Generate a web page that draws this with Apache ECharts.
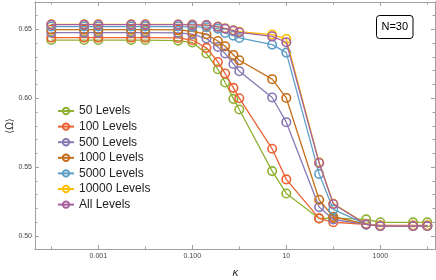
<!DOCTYPE html>
<html><head><meta charset="utf-8">
<script src="https://cdn.jsdelivr.net/npm/echarts@6/dist/echarts.min.js"></script>
<style>html,body{margin:0;padding:0;background:#fff}#c{width:436px;height:280px}</style>
</head><body><div id="c"></div>
<script>
// kappa values (x)
const kappa = [0.0001, 0.0005, 0.001, 0.005, 0.01, 0.05, 0.1, 0.2, 0.35, 0.5, 0.75, 1, 5, 10, 50, 100, 500, 1000, 5000, 10000];
// <Omega> per number of levels
const levels50    = [0.6422,0.6422,0.6422,0.6422,0.6422,0.6418,0.6405,0.6324,0.6210,0.6114,0.5995,0.5918,0.5471,0.5309,0.5128,0.5130,0.5121,0.5100,0.5099,0.5099];
const levels100   = [0.6440,0.6440,0.6440,0.6440,0.6440,0.6437,0.6422,0.6365,0.6263,0.6179,0.6075,0.6000,0.5633,0.5411,0.5128,0.5100,0.5085,0.5077,0.5077,0.5077];
const levels500   = [0.6476,0.6476,0.6476,0.6476,0.6476,0.6474,0.6465,0.6433,0.6372,0.6324,0.6249,0.6196,0.6005,0.5826,0.5210,0.5120,0.5085,0.5074,0.5074,0.5074];
const levels1000  = [0.6498,0.6498,0.6498,0.6498,0.6498,0.6496,0.6485,0.6464,0.6415,0.6377,0.6314,0.6275,0.6138,0.6002,0.5263,0.5140,0.5086,0.5075,0.5075,0.5075];
const levels5000  = [0.6520,0.6520,0.6520,0.6520,0.6520,0.6520,0.6518,0.6515,0.6505,0.6473,0.6454,0.6437,0.6389,0.6331,0.5451,0.5193,0.5085,0.5074,0.5074,0.5074];
const levels10000 = [0.6536,0.6536,0.6536,0.6536,0.6536,0.6535,0.6534,0.6531,0.6520,0.6507,0.6493,0.6482,0.6462,0.6430,0.5535,0.5235,0.5087,0.5076,0.5076,0.5076];
const levelsAll   = [0.6534,0.6534,0.6534,0.6534,0.6534,0.6534,0.6532,0.6530,0.6518,0.6505,0.6490,0.6478,0.6449,0.6406,0.5530,0.5232,0.5085,0.5073,0.5073,0.5073];
const seriesNames = ['50 Levels','100 Levels','500 Levels','1000 Levels','5000 Levels','10000 Levels','All Levels'];
const seriesValues = [levels50, levels100, levels500, levels1000, levels5000, levels10000, levelsAll];
// tick labels
const xMajorTicks = [0.001, 0.1, 10, 1000];
const xMajorLabels = ['0.001', '0.100', '10', '1000'];
const xMinorTicks = [0.0001, 0.01, 1, 100, 10000];
const yMajorTicks = [0.50, 0.55, 0.60, 0.65];
const yMajorLabels = ['0.50', '0.55', '0.60', '0.65'];
const yMinorTicks = [0.49, 0.51, 0.52, 0.53, 0.54, 0.56, 0.57, 0.58, 0.59, 0.61, 0.62, 0.63, 0.64, 0.66];

const colors = ['#8FB032','#EB6235','#8778B3','#C56E1A','#5D9EC7','#FFBF00','#A5609D'];
const frame = '#a0a0a0';
const font = 'Liberation Sans';
const XMIN = -4.347, XMAX = 4.164, YMIN = 0.4906, YMAX = 0.6698;
const lg = v => Math.log10(v);

function xAx(position, ticks, len, labels) {
  return {
    type: 'value', position: position, min: XMIN, max: XMAX,
    axisLine: {show: true, onZero: false, lineStyle: {color: frame, width: 1}},
    axisTick: {show: true, inside: true, length: len, customValues: ticks.map(lg), lineStyle: {color: frame, width: 1}},
    axisLabel: labels ? {show: true, customValues: ticks.map(lg), margin: 4, fontSize: 7, color: '#444', fontFamily: font,
      formatter: v => { const i = ticks.findIndex(t => Math.abs(lg(t) - v) < 1e-6); return i >= 0 ? labels[i] : ''; }} : {show: false},
    splitLine: {show: false}
  };
}
function yAx(position, ticks, len, labels) {
  return {
    type: 'value', position: position, min: YMIN, max: YMAX,
    axisLine: {show: true, onZero: false, lineStyle: {color: frame, width: 1}},
    axisTick: {show: true, inside: true, length: len, customValues: ticks, lineStyle: {color: frame, width: 1}},
    axisLabel: labels ? {show: true, customValues: ticks, margin: 3, fontSize: 7, color: '#444', fontFamily: font,
      formatter: v => { const i = ticks.findIndex(t => Math.abs(t - v) < 1e-9); return i >= 0 ? labels[i] : ''; }} : {show: false},
    splitLine: {show: false}
  };
}

const chart = echarts.init(document.getElementById('c'), null, {renderer: 'canvas'});
chart.setOption({
  animation: false,
  backgroundColor: '#fff',
  grid: {left: 35, top: 2, right: 1, bottom: 31, containLabel: false},
  xAxis: [
    xAx('bottom', xMajorTicks, 4, xMajorLabels),
    xAx('bottom', xMinorTicks, 2.5, null),
    xAx('top', xMajorTicks, 4, null),
    xAx('top', xMinorTicks, 2.5, null)
  ],
  yAxis: [
    yAx('left', yMajorTicks, 4, yMajorLabels),
    yAx('left', yMinorTicks, 2.5, null),
    yAx('right', yMajorTicks, 4, null),
    yAx('right', yMinorTicks, 2.5, null)
  ],
  legend: {
    left: 57, top: 104, orient: 'vertical', padding: 0, itemGap: 1.6,
    itemWidth: 16, itemHeight: 8,
    textStyle: {fontSize: 12, fontFamily: font, color: '#222', lineHeight: 14, padding: [0,0,0,0]},
    data: seriesNames
  },
  series: seriesNames.map((name, k) => ({
    name: name, type: 'line', xAxisIndex: 0, yAxisIndex: 0,
    data: kappa.map((x, i) => [lg(x), seriesValues[k][i]]),
    symbol: 'circle', symbolSize: 8.5,
    lineStyle: {color: colors[k], width: 1.3},
    itemStyle: {color: 'rgba(255,255,255,0)', borderColor: colors[k], borderWidth: 1.6},
    emphasis: {disabled: true},
    z: 2 + k
  })),
  graphic: [
    {type: 'rect', shape: {x: 376.5, y: 15.5, width: 36.5, height: 23, r: 3},
     style: {fill: '#fff', stroke: '#000', lineWidth: 1}, z: 100},
    {type: 'text', x: 394.8, y: 27, style: {text: 'N=30', fontSize: 11, fontFamily: font, fill: '#000', align: 'center', verticalAlign: 'middle'}, z: 101},
    {type: 'text', x: 10, y: 126, rotation: Math.PI / 2, style: {text: '\u27E8\u03A9\u27E9', fontSize: 10, fontFamily: 'DejaVu Sans', fill: '#333', align: 'center', verticalAlign: 'middle'}, z: 101},
    {type: 'text', x: 235.5, y: 273, style: {text: '\u03BA', fontSize: 11, fontStyle: 'italic', fontFamily: 'DejaVu Sans', fill: '#333', align: 'center', verticalAlign: 'middle'}, z: 101}
  ]
});
</script></body></html>
